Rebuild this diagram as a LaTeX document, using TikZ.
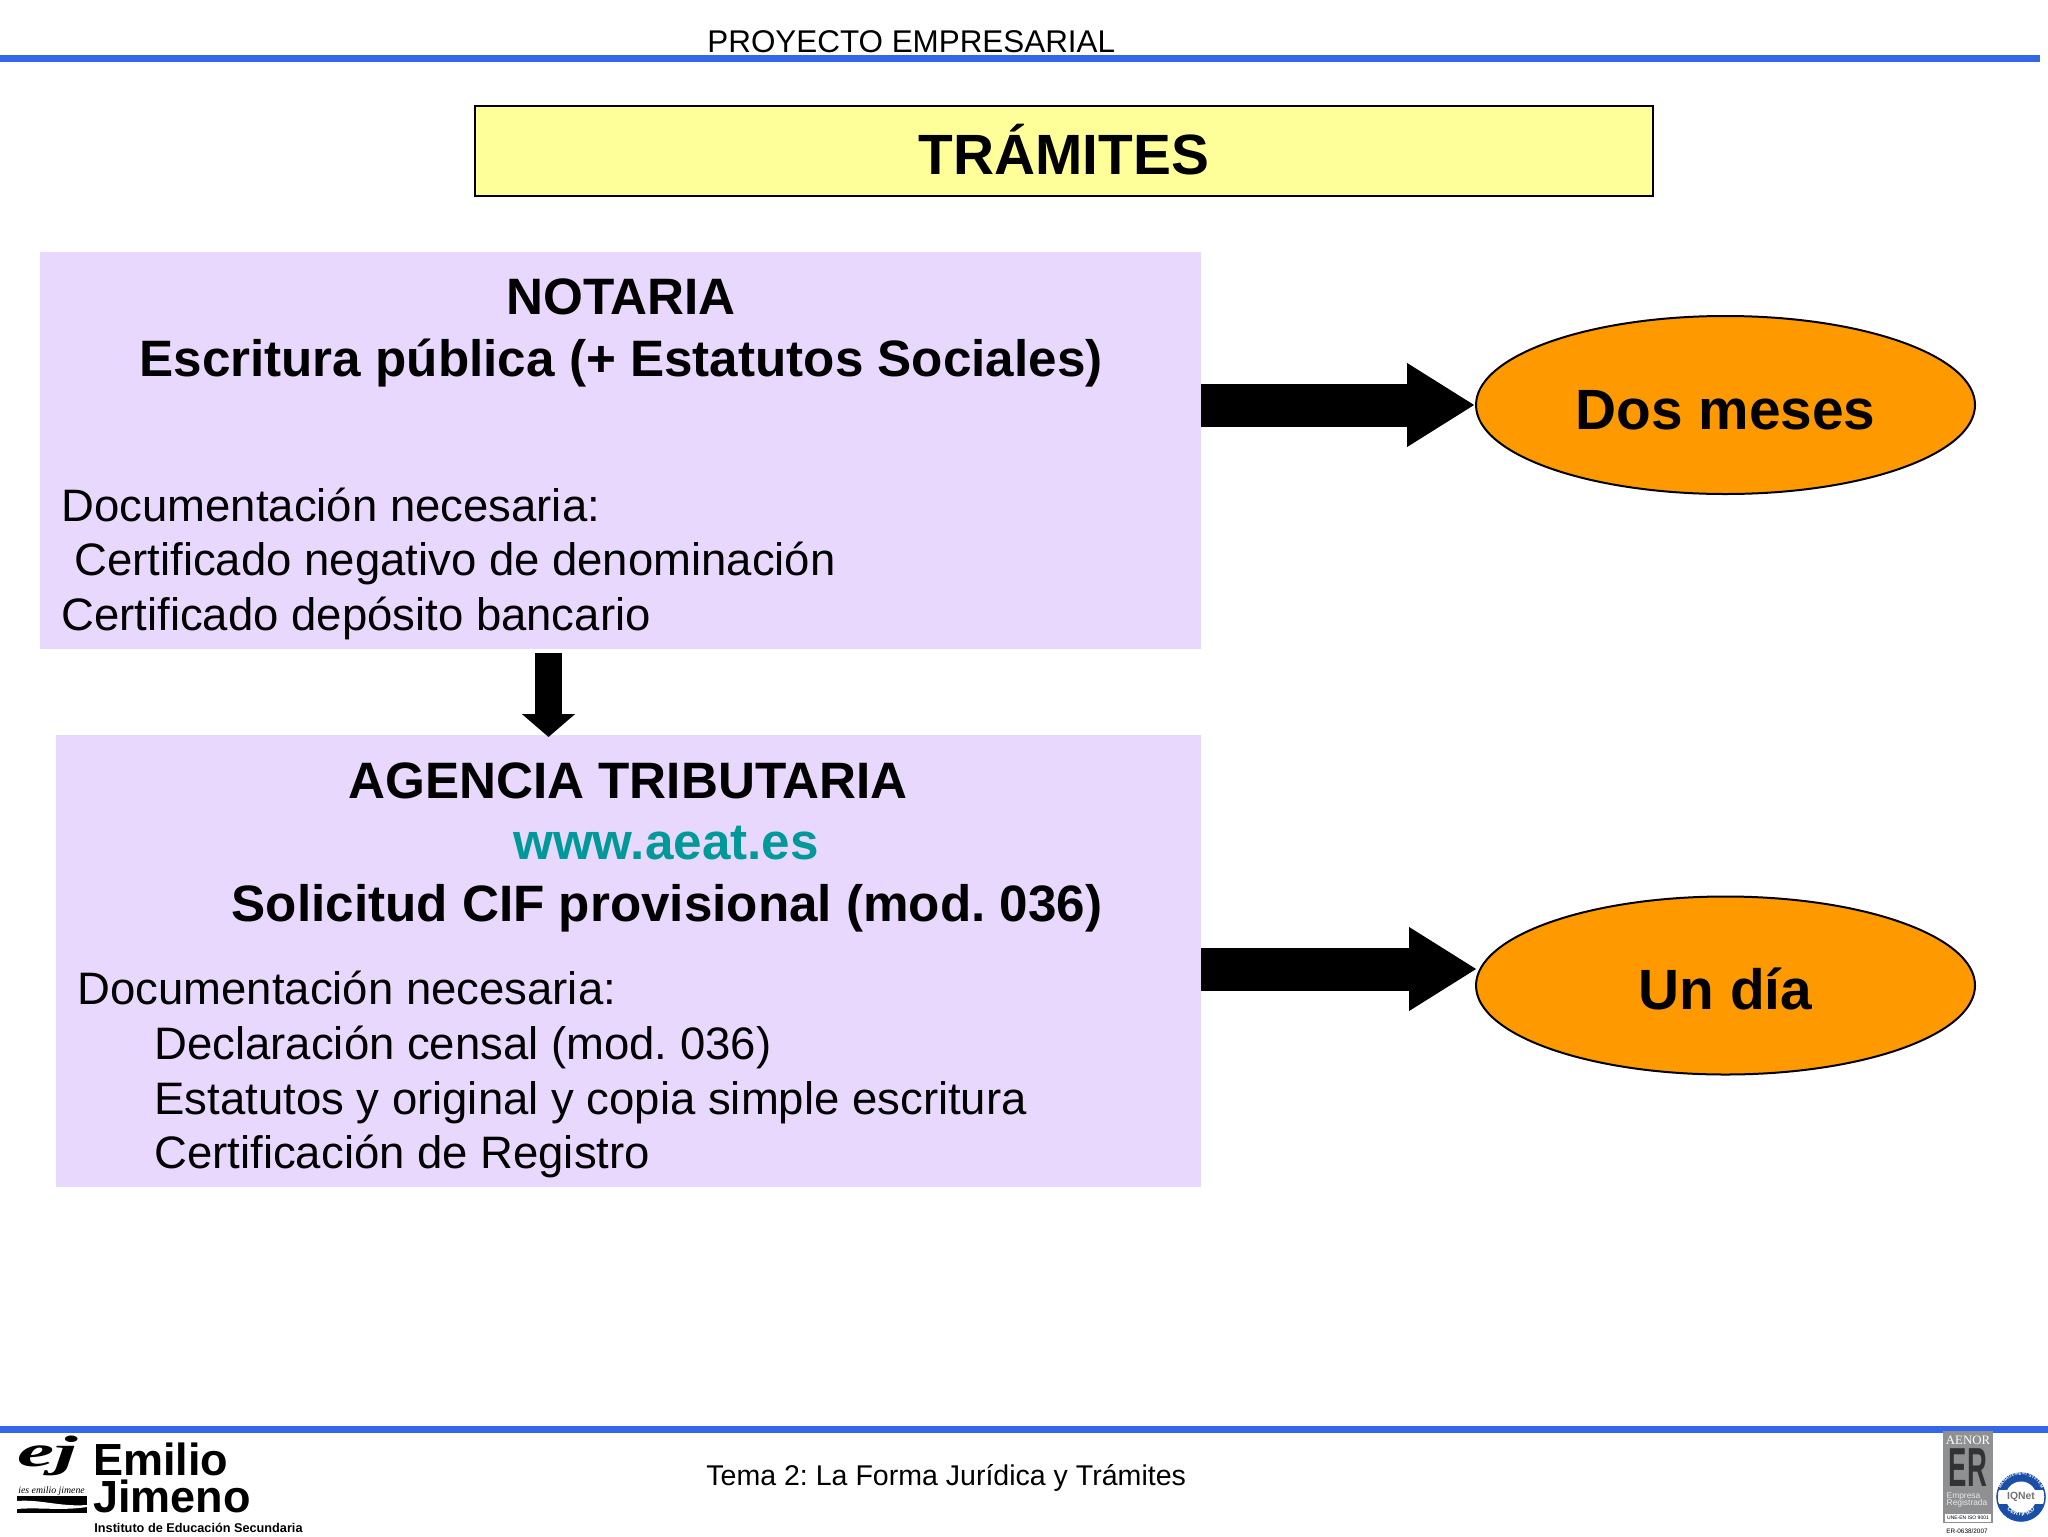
\documentclass[tikz,border=0pt]{standalone}
\usepackage{fontspec}
\setmainfont{Liberation Sans}
\newfontfamily\serifface{Liberation Serif}
\usetikzlibrary{arrows.meta,shapes.geometric,decorations.text}
\definecolor{rulecol}{HTML}{3366E8}
\definecolor{boxcol}{HTML}{E9D8FD}
\definecolor{titlecol}{HTML}{FFFF99}
\definecolor{ovalcol}{HTML}{FF9900}
\definecolor{urlcol}{HTML}{009999}
\definecolor{aenorcol}{HTML}{8E9092}
\definecolor{iqcol}{HTML}{1A4FA8}
\newcommand{\fs}[1]{\fontsize{#1}{#1}\selectfont}
\tikzset{
  x=0.5pt,y=-0.5pt,
  lilacbox/.style={fill=boxcol,inner sep=0pt},
  oval/.style={shape=ellipse,draw=black,line width=1pt,fill=ovalcol,inner sep=0pt,minimum width=249.5pt,minimum height=89pt,text height=24pt,text depth=0pt,font=\fs{28.4}\bfseries},
  headtext/.style={anchor=base,inner sep=0pt,font=\fs{25.6}\bfseries},
  bodytext/.style={anchor=base west,inner sep=0pt,font=\fs{22.75}},
  bigarrow/.style={-{Triangle[length=34pt,width=39.5pt]},line width=21.5pt,black},
  downarrow/.style={-{Triangle[length=11.5pt,width=26pt]},line width=13.5pt,black},
}
\begin{document}
\frenchspacing
\begin{tikzpicture}
\useasboundingbox (0,0) rectangle (2048,1536);
\fill[white] (0,0) rectangle (2048,1536);
% header and footer
\fill[rulecol] (0,55) rectangle (2040,62);
\fill[rulecol] (0,1426) rectangle (2048,1433);
\node[anchor=base west,inner sep=0pt,font=\fs{15.7}] (header) at (707,52.5) {PROYECTO EMPRESARIAL};
\node[anchor=base west,inner sep=0pt,font=\fs{14.27}] (footer) at (706,1485) {Tema 2: La Forma Jurídica y Trámites};
% title
\node[draw=black,line width=1.25pt,fill=titlecol,inner sep=0pt,minimum width=589pt,minimum height=45pt] (title) at (1064,151) {};
\node[anchor=base,inner sep=0pt,font=\fs{28.4}\bfseries] (titletext) at (1064,174) {TRÁMITES};
% boxes
\node[lilacbox,minimum width=580.5pt,minimum height=198.5pt] (notaria) at (620.5,450.5) {};
\node[lilacbox,minimum width=572.5pt,minimum height=226pt] (agencia) at (628.5,961) {};
\node[headtext] (n1) at (621,314) {NOTARIA};
\node[headtext] (n2) at (621,376) {Escritura pública (+ Estatutos Sociales)};
\node[bodytext] (n3) at (61,521) {Documentación necesaria:};
\node[bodytext] (n4) at (74,575) {Certificado negativo de denominación};
\node[bodytext] (n5) at (61,630) {Certificado depósito bancario};
\node[headtext] (a1) at (628,798) {AGENCIA TRIBUTARIA};
\node[headtext,text=urlcol] (a2) at (666,859) {www.aeat.es};
\node[headtext] (a3) at (667,921) {Solicitud CIF provisional (mod. 036)};
\node[bodytext] (a4) at (77,1004) {Documentación necesaria:};
\node[bodytext] (a5) at (154,1059) {Declaración censal (mod. 036)};
\node[bodytext] (a6) at (154,1114) {Estatutos y original y copia simple escritura};
\node[bodytext] (a7) at (154,1168) {Certificación de Registro};
% ovals
\node[oval] (dos) at (1725.5,405) {Dos meses};
\node[oval] (dia) at (1725.5,985.5) {Un día};
% arrows
\coordinate (tipdia) at (1477,969);
\coordinate (startdown) at (548.5,653);
\coordinate (tipdown) at (548.5,737);
\draw[bigarrow] (dos.west -| notaria.east) -- (dos.west);
\draw[bigarrow] (tipdia -| agencia.east) -- (tipdia);
\draw[downarrow] (startdown) -- (tipdown);
% left logo
\node[anchor=south west,inner sep=0pt,align=left,font=\fontsize{22.5}{18.5}\selectfont\bfseries] (emilio) at (93,1513) {Emilio\\Jimeno};
\node[anchor=base west,inner sep=0pt,font=\fs{6.35}\bfseries] (instituto) at (94,1532) {Instituto de Educación Secundaria};
\node[anchor=base west,inner sep=0pt,font=\serifface\fs{22}\bfseries\itshape] (ej) at (17,1466) {\scalebox{1.9}[1]{ej}};
\node[anchor=base west,inner sep=0pt,font=\serifface\fs{4.9}\itshape] (ies) at (18,1493) {ies emilio jimene};
\fill[black] (17,1496) rectangle (87,1513);
\fill[white] (17,1501) .. controls (40,1499) and (60,1507) .. (87,1505) -- (87,1507) .. controls (60,1511) and (40,1507) .. (17,1509) -- cycle;
% right logos
\fill[aenorcol] (1943,1431) rectangle (1993,1523);
\node[inner sep=0pt,text=white,font=\serifface\fs{6.4}] (aenor) at (1968,1440) {AENOR};
\node[inner sep=0pt,text=black!80,font=\fs{27.5}\bfseries] (er) at (1968,1468) {\scalebox{0.5}[1]{ER}};
\node[inner sep=0pt,text=white!80!aenorcol,font=\fs{4.2},align=left] (empresa) at (1967,1500) {Empresa\\[-0.4pt]Registrada};
\node[draw=aenorcol,fill=white,inner sep=0pt,minimum width=23.5pt,minimum height=4.5pt,font=\fs{2.5}] (iso) at (1968,1517.5) {UNE-EN ISO 9001};
\node[inner sep=0pt,font=\fs{3.2}] (ernum) at (1967,1531) {ER-0638/2007};
\fill[iqcol] (2021,1497) circle (24.5);
\fill[white] (2021,1497) circle (15.5);
\fill[white] (1997.5,1489.5) rectangle (2044.5,1503.5);
\draw[iqcol,line width=0.7pt] (2021,1497) circle (24);
\node[inner sep=0pt,text=black!55,font=\fs{5.2}\bfseries] (iqnet) at (2021,1496.5) {IQNet};
\path[decorate,decoration={text along path,text align=center,text={|\fs{3}\bfseries\color{white}|CERTIFIED}}] (2002,1497) arc (180:0:19);
\path[decorate,decoration={text along path,text align=center,text={|\fs{2.2}\bfseries\color{white}|MANAGEMENT SYSTEM}}] (1999,1497) arc (180:360:22);
\end{tikzpicture}
\end{document}
